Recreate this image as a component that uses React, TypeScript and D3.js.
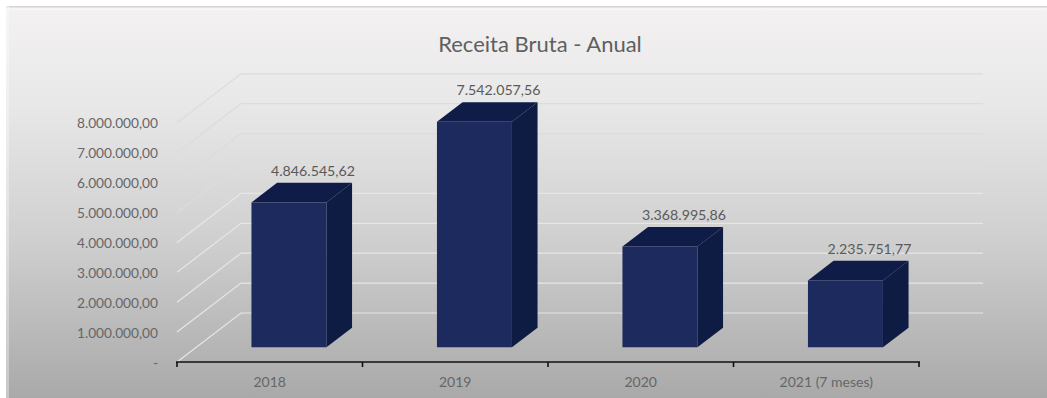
import React from "react";
import * as d3 from "d3";

const categories = ["2018", "2019", "2020", "2021 (7 meses)"];
const revenue = [4846545.62, 7542057.56, 3368995.86, 2235751.77];
const revenueLabels = ["4.846.545,62", "7.542.057,56", "3.368.995,86", "2.235.751,77"];
const axisTicks = [0, 1000000, 2000000, 3000000, 4000000, 5000000, 6000000, 7000000, 8000000];
const axisTickLabels = ["-", "1.000.000,00", "2.000.000,00", "3.000.000,00", "4.000.000,00", "5.000.000,00", "6.000.000,00", "7.000.000,00", "8.000.000,00"];

const W = 1047;
const H = 398;
const FONT = "Lato, 'Open Sans', sans-serif";
const TEXT = "#666666";

// Front plane of the 3D box; depth runs from 0 (front) to 1 (back wall).
const x = d3.scaleBand<string>().domain(categories).range([177, 919]);
const y = d3.scaleLinear().domain([0, 8000000]).range([362, 122.8]);
const depthX = d3.scaleLinear().domain([0, 1]).range([0, 64]);
const depthY = d3.scaleLinear().domain([0, 1]).range([0, -49]);

const BAR_W = 75;
const DEPTH_NEAR = 0.3;
const DEPTH_FAR = 0.7;

const pt = (px: number, value: number, depth: number) =>
  [px + depthX(depth), y(value) + depthY(depth)] as [number, number];
const poly = (pts: [number, number][]) => d3.line()(pts) + "Z";

export default function App() {
  return (
    <svg width={W} height={H} style={{ position: "absolute", left: 0, top: 0 }}>
      <defs>
        <linearGradient id="plate" x1="0" y1="0" x2="0" y2="1">
          <stop offset="0" stopColor="#f3f1f1" />
          <stop offset="0.25" stopColor="#e9e8e8" />
          <stop offset="0.6" stopColor="#cfcfcf" />
          <stop offset="1" stopColor="#a9a9a9" />
        </linearGradient>
      </defs>
      <rect width={W} height={H} fill="#ffffff" />
      <rect x={6} y={6} width={W - 6} height={H - 6} fill="url(#plate)" />
      {/* Soft bevel along the top and left edges of the plate */}
      <rect x={6} y={6} width={W - 6} height={1.5} fill="#d8d4d4" />
      <rect x={6} y={8.5} width={W - 6} height={1.5} fill="#f8f6f6" />
      <rect x={6} y={6} width={3} height={H - 6} fill="#ffffff" opacity={0.35} />

      <text x={540} y={52} textAnchor="middle" fontFamily={FONT} fontSize={22} fill="#5f5f5f">
        Receita Bruta - Anual
      </text>

      {axisTicks.map((t, i) => {
        const a = pt(177, t, 0);
        const b = pt(177, t, 1);
        const c = pt(983 - 64, t, 1);
        const stroke = t > 4500000 ? "#dcdcdc" : "#e6e6e6";
        return (
          <g key={t}>
            <path d={d3.line()([a, b, c]) ?? ""} fill="none" stroke={stroke} strokeWidth={1.2} />
            <text x={158} y={y(t) + 5.5} textAnchor="end" fontFamily={FONT} fontSize={13.7} fill={TEXT}>
              {axisTickLabels[i]}
            </text>
          </g>
        );
      })}

      {categories.map((c, i) => {
        const x0 = (x(c) ?? 0) + (x.bandwidth() - BAR_W) / 2;
        const x1 = x0 + BAR_W;
        const v = revenue[i];
        return (
          <g key={c}>
            <path
              d={poly([pt(x0, v, DEPTH_NEAR), pt(x0, v, DEPTH_FAR), pt(x1, v, DEPTH_FAR), pt(x1, v, DEPTH_NEAR)])}
              fill="#101c48"
            />
            <path
              d={poly([pt(x1, v, DEPTH_NEAR), pt(x1, v, DEPTH_FAR), pt(x1, 0, DEPTH_FAR), pt(x1, 0, DEPTH_NEAR)])}
              fill="#0e1b42"
            />
            <path
              d={poly([pt(x0, v, DEPTH_NEAR), pt(x1, v, DEPTH_NEAR), pt(x1, 0, DEPTH_NEAR), pt(x0, 0, DEPTH_NEAR)])}
              fill="#1c2a5e"
            />
            <text
              x={pt(x1, v, DEPTH_FAR)[0] - 39}
              y={pt(x1, v, DEPTH_FAR)[1] - 7}
              textAnchor="middle"
              fontFamily={FONT}
              fontSize={14.2}
              fill="#5a5a5a"
            >
              {revenueLabels[i]}
            </text>
            <text
              x={(x(c) ?? 0) + x.bandwidth() / 2}
              y={387}
              textAnchor="middle"
              fontFamily={FONT}
              fontSize={14}
              fill={TEXT}
            >
              {c}
            </text>
          </g>
        );
      })}

      <line x1={176} x2={920} y1={362} y2={362} stroke="#111" strokeWidth={1.6} />
      {[...categories.map((c) => x(c) ?? 0), 919].map((tx) => (
        <line key={tx} x1={tx} x2={tx} y1={362} y2={367} stroke="#111" strokeWidth={1.6} />
      ))}
    </svg>
  );
}
